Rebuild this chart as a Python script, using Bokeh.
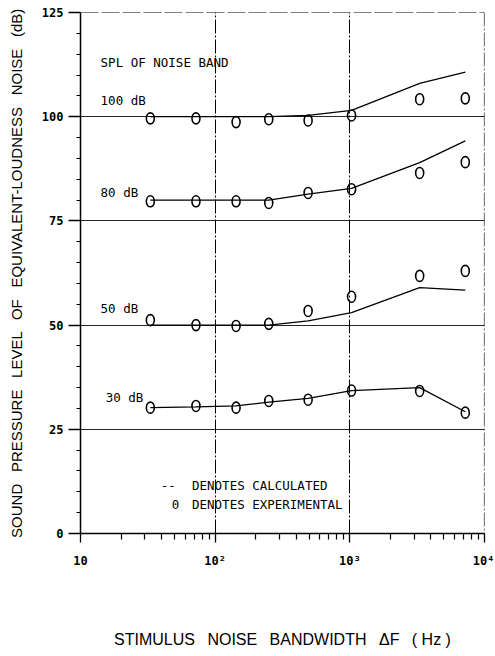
from bokeh.plotting import figure
from bokeh.models import FixedTicker, Span
from bokeh.core.properties import value
from bokeh.embed import file_html
from bokeh.resources import INLINE

# ---- data ----
bandwidth_hz = [33, 72, 143, 250, 490, 1030, 3300, 7200]

calc_100 = [100.0, 100.0, 100.0, 100.0, 100.3, 101.5, 108.0, 110.7]
calc_80 = [80.0, 80.0, 80.0, 80.0, 81.4, 82.8, 89.0, 94.2]
calc_50 = [50.0, 50.0, 50.0, 50.0, 51.0, 53.0, 59.0, 58.4]
calc_30 = [30.2, 30.4, 30.6, 31.5, 32.4, 34.3, 35.0, 29.2]

exp_100 = [99.6, 99.6, 98.7, 99.4, 99.1, 100.3, 104.2, 104.4]
exp_80 = [79.7, 79.7, 79.7, 79.3, 81.7, 82.6, 86.5, 89.1]
exp_50 = [51.2, 50.0, 49.8, 50.3, 53.4, 56.8, 61.8, 63.0]
exp_30 = [30.2, 30.6, 30.2, 31.8, 32.1, 34.3, 34.2, 29.0]

x_major = [10, 100, 1000, 10000]
x_minor = [20, 30, 40, 50, 60, 70, 80, 90,
           200, 300, 400, 500, 600, 700, 800, 900,
           2000, 3000, 4000, 5000, 6000, 7000, 8000, 9000]
x_labels = {10: "10", 100: "10²", 1000: "10³", 10000: "10⁴"}
y_major = [0, 25, 50, 75, 100, 125]
y_minor = [5, 10, 15, 20, 30, 35, 40, 45, 55, 60, 65, 70,
           80, 85, 90, 95, 105, 110, 115, 120]

PLOT_FONT = "DejaVu Sans Mono"
LABEL_FONT = "Liberation Sans"
SP = " \u2002"  # wide word gap (SVG collapses plain repeated spaces)

p = figure(width=494, height=654, x_axis_type="log",
           x_range=(10, 10000), y_range=(0, 125),
           output_backend="svg", toolbar_location=None,
           min_border_left=80, min_border_right=10,
           min_border_top=12, min_border_bottom=121)
p.outline_line_color = None
p.background_fill_color = "white"

# axes
for ax in (p.xaxis, p.yaxis):
    ax.axis_line_color = "black"
    ax.axis_line_width = 1.5
    ax.major_tick_line_color = "black"
    ax.minor_tick_line_color = "black"
    ax.major_tick_line_width = 1.3
    ax.minor_tick_line_width = 1.2
    ax.major_label_text_font = PLOT_FONT
    ax.major_label_text_font_size = "12px"
    ax.major_label_text_font_style = "bold"
    ax.major_label_text_color = "black"
    ax.axis_label_text_font = LABEL_FONT
    ax.axis_label_text_font_style = "normal"
    ax.axis_label_text_color = "black"

p.xaxis.ticker = FixedTicker(ticks=x_major, minor_ticks=x_minor)
p.xaxis.major_label_overrides = x_labels
p.xaxis.major_tick_in = 0
p.xaxis.major_tick_out = 9
p.xaxis.minor_tick_in = 0
p.xaxis.minor_tick_out = 6
p.xaxis.major_label_standoff = 11
p.xaxis.axis_label = SP.join(["STIMULUS", "NOISE", "BANDWIDTH", "ΔF", "( Hz )"])
p.xaxis.axis_label_text_font_size = "16px"
p.xaxis.axis_label_standoff = 60

p.yaxis.ticker = FixedTicker(ticks=y_major, minor_ticks=y_minor)
p.yaxis.major_tick_in = 0
p.yaxis.major_tick_out = 12
p.yaxis.minor_tick_in = 0
p.yaxis.minor_tick_out = 4
p.yaxis.major_label_standoff = 5
p.yaxis.axis_label = SP.join(["SOUND", "PRESSURE", "LEVEL", "OF",
                              "EQUIVALENT-LOUDNESS", "NOISE", "(dB)"])
p.yaxis.axis_label_text_font_size = "15px"
p.yaxis.axis_label_standoff = 14

# grids
p.xgrid.ticker = FixedTicker(ticks=[100, 1000])
p.xgrid.grid_line_color = "black"
p.xgrid.grid_line_width = 1
p.xgrid.grid_line_dash = "14 2 2 2"
p.ygrid.ticker = FixedTicker(ticks=[25, 50, 75, 100])
p.ygrid.grid_line_color = "black"
p.ygrid.grid_line_width = 1.2
p.ygrid.grid_line_alpha = 0.85

p.add_layout(Span(location=125, dimension="width", line_color="black",
                  line_width=1.2, line_dash="18 3"))
p.add_layout(Span(location=10000, dimension="height", line_color="black",
                  line_width=1.2, line_dash="14 2 2 2"))

# calculated curves
for calc in (calc_100, calc_80, calc_50, calc_30):
    p.line(bandwidth_hz, calc, line_color="black", line_width=1.3)

# experimental points
for exp in (exp_100, exp_80, exp_50, exp_30):
    p.ellipse(bandwidth_hz, exp, width=8, height=11,
              width_units="screen", height_units="screen",
              fill_color=None, line_color="black", line_width=1.6)

# annotations
p.text(x=[14.1, 14.1, 14.1, 14.1, 15.4],
       y=[113.0, 103.9, 81.7, 53.9, 32.6],
       text=["SPL OF NOISE BAND", "100 dB", "80 dB", "50 dB", "30 dB"],
       text_font=value(PLOT_FONT), text_font_size="12.5px",
       text_baseline="middle", text_align="left", text_color="black")
p.text(x=[39.5, 67.3, 47.7, 67.3],
       y=[11.5, 11.5, 6.9, 6.9],
       text=["--", "DENOTES CALCULATED", "0", "DENOTES EXPERIMENTAL"],
       text_font=value(PLOT_FONT), text_font_size="12.5px",
       text_baseline="middle", text_align="left", text_color="black")

open("out.html", "w").write(file_html(p, INLINE))
